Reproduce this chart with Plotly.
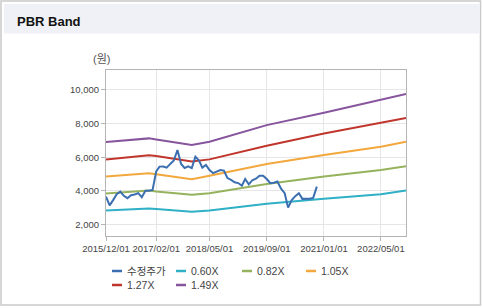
import pandas as pd
import plotly.graph_objects as go

# ---------------- data ----------------
PRICE_START = "2015-12-01"
PRICE = [3660, 3130, 3460, 3800, 3950, 3700, 3560, 3740, 3780, 3860,
         3620, 4000, 4000, 4050, 5150, 5440, 5450, 5380, 5600, 5800,
         6430, 5600, 5360, 5450, 5350, 6030, 5800, 5380, 5540, 5240,
         5050, 5160, 5240, 5200, 4760, 4650, 4510, 4460, 4300, 4700,
         4380, 4630, 4720, 4900, 4900, 4700, 4450, 4480, 4550, 4130,
         3860, 3000, 3450, 3680, 3860, 3520, 3520, 3530, 3580, 4250]

BAND_DATES = ["2015-12-01", "2016-12-01", "2017-02-01", "2017-12-01", "2018-05-01",
              "2019-09-01", "2021-01-01", "2022-05-01", "2022-12-01"]
BAND_060 = [2830, 2950, 2910, 2750, 2830, 3230, 3520, 3800, 4015]
BAND_082 = [3840, 4015, 3955, 3760, 3860, 4410, 4850, 5240, 5460]
BAND_105 = [4850, 5040, 4985, 4690, 4890, 5600, 6130, 6620, 6920]
BAND_127 = [5870, 6110, 6070, 5740, 5870, 6680, 7415, 8050, 8340]
BAND_149 = [6900, 7120, 7060, 6720, 6920, 7910, 8640, 9450, 9765]

X_TICKS = ["2015-12-01", "2017-02-01", "2018-05-01", "2019-09-01", "2021-01-01", "2022-05-01"]
X_TICK_TEXT = ["2015/12/01", "2017/02/01", "2018/05/01", "2019/09/01", "2021/01/01", "2022/05/01"]
Y_TICKS = [2000, 4000, 6000, 8000, 10000]

NAMES = ["수정주가", "0.60X", "0.82X", "1.05X", "1.27X", "1.49X"]
COLORS = ["#3c6fb0", "#2fb0c6", "#95b35c", "#f2a83c", "#c0362d", "#87559d"]

price_dates = pd.date_range(PRICE_START, periods=len(PRICE), freq="MS")

# ---------------- layout geometry (pixels) ----------------
W, H = 482, 308
ML, MR, MT, MB = 106, 76, 70, 72
PW, PH = W - ML - MR, H - MT - MB


def px(x):
    return (x - ML) / PW


def py(y):
    return (H - MB - y) / PH


fig = go.Figure()
series = [(price_dates, PRICE), (BAND_DATES, BAND_060), (BAND_DATES, BAND_082),
          (BAND_DATES, BAND_105), (BAND_DATES, BAND_127), (BAND_DATES, BAND_149)]
order = [1, 2, 3, 4, 5, 0]
for i in order:
    xs, ys = series[i]
    fig.add_trace(go.Scatter(x=list(xs), y=ys, mode="lines", name=NAMES[i],
                             line=dict(color=COLORS[i], width=2),
                             showlegend=False))

shapes = [
    # outer frame
    dict(type="rect", xref="paper", yref="paper", x0=px(1), x1=px(480.5), y0=py(1), y1=py(305),
         line=dict(color="#c9c9c9", width=1.5), fillcolor="rgba(0,0,0,0)", layer="below"),
    # title bar
    dict(type="rect", xref="paper", yref="paper", x0=px(4), x1=px(480), y0=py(4), y1=py(33.5),
         line=dict(width=0), fillcolor="#eff1f6", layer="below"),
]

annotations = [
    dict(text="<b>PBR Band</b>", xref="paper", yref="paper", x=px(15), y=py(21),
         xanchor="left", yanchor="middle", showarrow=False,
         font=dict(family="Liberation Sans, Arial", size=13, color="#111111")),
    dict(text="(원)", xref="paper", yref="paper", x=px(101), y=py(59),
         xanchor="center", yanchor="middle", showarrow=False,
         font=dict(family="Liberation Sans, Noto Sans CJK KR", size=11, color="#555555")),
]

# custom legend (short line + label), two rows like the reference
legend_pos = [(112, 271), (176, 271), (242, 271), (306, 271), (112, 285), (176, 285)]
for i, (lx, ly) in enumerate(legend_pos):
    shapes.append(dict(type="line", xref="paper", yref="paper", x0=px(lx), x1=px(lx + 10),
                       y0=py(ly), y1=py(ly), line=dict(color=COLORS[i], width=2.5)))
    annotations.append(dict(text=NAMES[i], xref="paper", yref="paper", x=px(lx + 12.5), y=py(ly),
                            xanchor="left", yanchor="middle", showarrow=False,
                            font=dict(family="Liberation Sans, Noto Sans CJK KR", size=10.5,
                                      color="#444444")))

fig.update_layout(
    width=W, height=H, autosize=False,
    margin=dict(l=ML, r=MR, t=MT, b=MB, pad=0),
    paper_bgcolor="white", plot_bgcolor="white",
    shapes=shapes, annotations=annotations, showlegend=False,
    font=dict(family="Liberation Sans, Arial", size=9.5, color="#444444"),
    xaxis=dict(type="date", range=["2015-12-01", "2022-12-01"],
               tickvals=X_TICKS, ticktext=X_TICK_TEXT,
               showgrid=True, gridcolor="#e6e6e6", gridwidth=1,
               showline=True, linecolor="#b4b4b4", linewidth=1, mirror=True,
               ticks="outside", ticklen=4, tickcolor="#b4b4b4",
               zeroline=False, fixedrange=True),
    yaxis=dict(range=[1310, 11190], tickvals=Y_TICKS, tickformat=",",
               showgrid=True, gridcolor="#e6e6e6", gridwidth=1,
               showline=True, linecolor="#b4b4b4", linewidth=1, mirror=True,
               ticks="outside", ticklen=4, tickcolor="#b4b4b4",
               zeroline=False, fixedrange=True),
)

fig.write_html("out.html", config={"displayModeBar": False})
